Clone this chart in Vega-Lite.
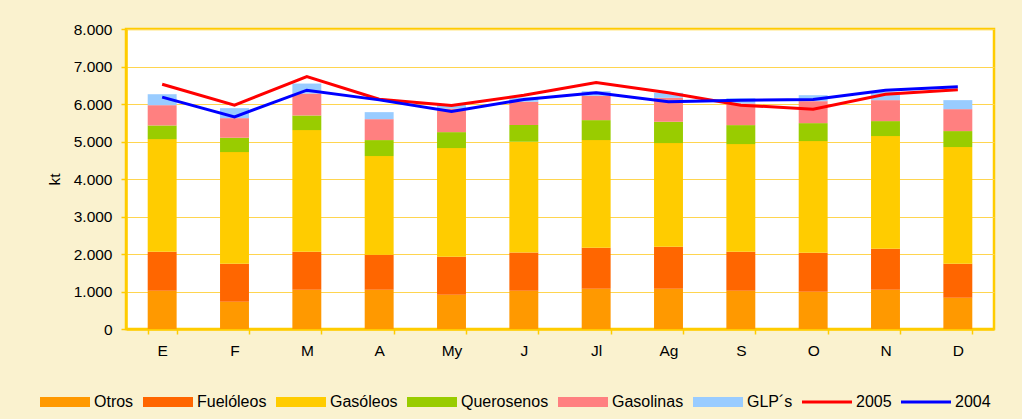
{
  "$schema": "https://vega.github.io/schema/vega-lite/v6.json",
  "width": 868,
  "height": 300,
  "autosize": {"type": "none"},
  "padding": {"left": 126, "top": 29, "right": 28, "bottom": 90},
  "background": "#FAF2CF",
  "data": {
    "values": [
      {"mes": "E", "Otros": 1020, "Fuelóleos": 1038, "Gasóleos": 3006, "Querosenos": 364, "Gasolinas": 541, "GLP´s": 292, "2005": 6528, "2004": 6182},
      {"mes": "F", "Otros": 727, "Fuelóleos": 1011, "Gasóleos": 2980, "Querosenos": 382, "Gasolinas": 523, "GLP´s": 266, "2005": 5969, "2004": 5658},
      {"mes": "M", "Otros": 1047, "Fuelóleos": 1011, "Gasóleos": 3246, "Querosenos": 390, "Gasolinas": 585, "GLP´s": 266, "2005": 6732, "2004": 6368},
      {"mes": "A", "Otros": 1047, "Fuelóleos": 931, "Gasóleos": 2634, "Querosenos": 426, "Gasolinas": 558, "GLP´s": 187, "2005": 6128, "2004": 6110},
      {"mes": "My", "Otros": 913, "Fuelóleos": 1012, "Gasóleos": 2900, "Querosenos": 425, "Gasolinas": 630, "GLP´s": 110, "2005": 5960, "2004": 5800},
      {"mes": "J", "Otros": 1020, "Fuelóleos": 1020, "Gasóleos": 2954, "Querosenos": 443, "Gasolinas": 621, "GLP´s": 116, "2005": 6235, "2004": 6120},
      {"mes": "Jl", "Otros": 1073, "Fuelóleos": 1091, "Gasóleos": 2874, "Querosenos": 532, "Gasolinas": 648, "GLP´s": 124, "2005": 6573, "2004": 6298},
      {"mes": "Ag", "Otros": 1073, "Fuelóleos": 1118, "Gasóleos": 2767, "Querosenos": 568, "Gasolinas": 639, "GLP´s": 133, "2005": 6298, "2004": 6058},
      {"mes": "S", "Otros": 1020, "Fuelóleos": 1038, "Gasóleos": 2873, "Querosenos": 506, "Gasolinas": 577, "GLP´s": 141, "2005": 5969, "2004": 6103},
      {"mes": "O", "Otros": 993, "Fuelóleos": 1038, "Gasóleos": 2980, "Querosenos": 479, "Gasolinas": 586, "GLP´s": 159, "2005": 5863, "2004": 6120},
      {"mes": "N", "Otros": 1047, "Fuelóleos": 1091, "Gasóleos": 3007, "Querosenos": 399, "Gasolinas": 559, "GLP´s": 222, "2005": 6262, "2004": 6369},
      {"mes": "D", "Otros": 834, "Fuelóleos": 905, "Gasóleos": 3113, "Querosenos": 426, "Gasolinas": 585, "GLP´s": 240, "2005": 6378, "2004": 6458}
    ]
  },
  "encoding": {
    "x": {
      "field": "mes",
      "type": "nominal",
      "sort": null,
      "scale": {"paddingInner": 0.6, "paddingOuter": 0.3},
      "axis": {
        "title": null,
        "labelAngle": 0,
        "labelFont": "Liberation Sans",
        "labelFontSize": 15.5,
        "labelColor": "#000000",
        "labelPadding": 9,
        "tickBand": "extent",
        "tickColor": "#FFCC00",
        "tickSize": 5,
        "tickWidth": 1.5,
        "domainColor": "#FFCC00",
        "domainWidth": 2.5,
        "grid": false
      }
    },
    "y": {
      "field": "kt",
      "type": "quantitative",
      "scale": {"domain": [0, 8000], "nice": false},
      "axis": {
        "title": "kt",
        "titleFont": "Liberation Sans",
        "titleFontSize": 15.5,
        "titleFontWeight": "normal",
        "titleColor": "#000000",
        "titlePadding": 11,
        "values": [0, 1000, 2000, 3000, 4000, 5000, 6000, 7000, 8000],
        "labelExpr": "replace(format(datum.value, ','), ',', '.')",
        "labelFont": "Liberation Sans",
        "labelFontSize": 15.5,
        "labelColor": "#000000",
        "labelPadding": 9,
        "labelOverlap": false,
        "tickColor": "#FFCC00",
        "tickSize": 5,
        "tickWidth": 1.5,
        "domainColor": "#FFCC00",
        "domainWidth": 2.5,
        "gridColor": "#FFD54F",
        "gridWidth": 1.2
      }
    },
    "color": {
      "field": "serie",
      "type": "nominal",
      "scale": {
        "domain": ["Otros", "Fuelóleos", "Gasóleos", "Querosenos", "Gasolinas", "GLP´s", "2005", "2004"],
        "range": ["#FF9900", "#FF6600", "#FFCC00", "#99CC00", "#FF8080", "#99CCFF", "#FF0000", "#0000FF"]
      },
      "legend": {
        "orient": "none",
        "legendX": -86,
        "legendY": 348,
        "direction": "horizontal",
        "columns": 8,
        "title": null,
        "padding": 0,
        "symbolType": "M-1,-0.2H1V0.2H-1Z",
        "symbolSize": 2500,
        "symbolStrokeWidth": 0,
        "symbolOpacity": 1,
        "labelFont": "Liberation Sans",
        "labelFontSize": 16,
        "labelColor": "#000000",
        "labelOffset": 4,
        "labelLimit": 300,
        "columnPadding": 9,
        "encode": {
          "symbols": {
            "update": {
              "shape": {"signal": "(datum.value == '2005' || datum.value == '2004') ? 'M-1,-0.06H1V0.06H-1Z' : 'M-1,-0.2H1V0.2H-1Z'"},
              "fill": {"scale": "color", "field": "value"},
              "stroke": {"value": "transparent"},
              "strokeWidth": {"value": 0},
              "opacity": {"value": 1}
            }
          }
        }
      }
    }
  },
  "layer": [
    {
      "transform": [
        {"fold": ["Otros", "Fuelóleos", "Gasóleos", "Querosenos", "Gasolinas", "GLP´s"], "as": ["serie", "kt"]},
        {"calculate": "indexof(['Otros', 'Fuelóleos', 'Gasóleos', 'Querosenos', 'Gasolinas', 'GLP´s'], datum.serie)", "as": "orden"}
      ],
      "mark": {"type": "bar"},
      "encoding": {
        "order": {"field": "orden", "type": "quantitative", "sort": "ascending"}
      }
    },
    {
      "transform": [{"fold": ["2005", "2004"], "as": ["serie", "kt"]}],
      "mark": {"type": "line", "strokeWidth": 3},
      "encoding": {}
    }
  ],
  "config": {
    "view": {"stroke": "#FFCC00", "strokeWidth": 2.5, "fill": "#FFFFFF"}
  }
}
